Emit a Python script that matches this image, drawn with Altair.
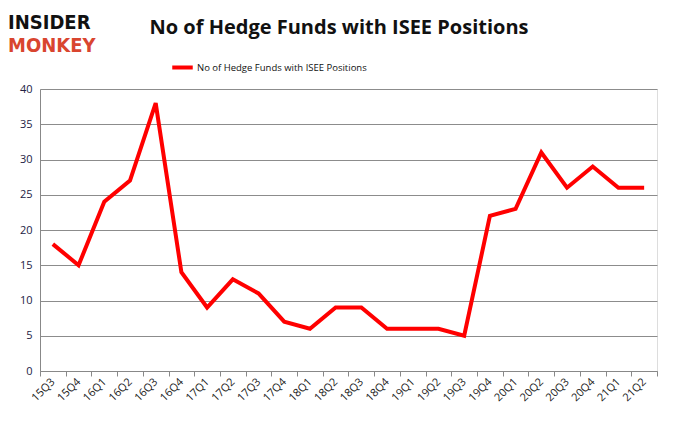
import altair as alt
import pandas as pd

quarters = ["15Q3", "15Q4", "16Q1", "16Q2", "16Q3", "16Q4", "17Q1", "17Q2", "17Q3", "17Q4",
            "18Q1", "18Q2", "18Q3", "18Q4", "19Q1", "19Q2", "19Q3", "19Q4", "20Q1", "20Q2",
            "20Q3", "20Q4", "21Q1", "21Q2"]
funds = [18, 15, 24, 27, 38, 14, 9, 13, 11, 7, 6, 9, 9, 6, 6, 6, 5, 22, 23, 31, 26, 29, 26, 26]
series_name = "No of Hedge Funds with ISEE Positions"
title_text = "No of Hedge Funds with ISEE Positions"
logo_top = "INSIDER"
logo_bottom = "MONKEY"

df = pd.DataFrame({"quarter": quarters, "funds": funds, "series": series_name})
text_df = pd.DataFrame({"a": [logo_top], "b": [logo_bottom], "t": [title_text]})

line = alt.Chart(df).mark_line(strokeWidth=4, color="#ff0000").encode(
    x=alt.X("quarter:O", sort=quarters,
            scale=alt.Scale(type="band", paddingInner=0, paddingOuter=0),
            axis=alt.Axis(title=None, labelAngle=-45, labelAlign="right", labelBaseline="middle",
                          tickBand="extent", grid=False, domainColor="#888888",
                          tickColor="#888888", tickSize=5, labelFontSize=11,
                          labelFont="Open Sans", labelColor="#222222", labelPadding=4)),
    y=alt.Y("funds:Q", scale=alt.Scale(domain=[0, 40]),
            axis=alt.Axis(title=None, values=[0, 5, 10, 15, 20, 25, 30, 35, 40],
                          gridColor="#8c8c8c", domainColor="#888888", ticks=False,
                          labelFontSize=11, labelFont="Open Sans", labelColor="#222244",
                          labelPadding=8)),
    color=alt.Color("series:N", scale=alt.Scale(range=["#ff0000"]),
                    legend=alt.Legend(title=None, orient="none", legendX=130, legendY=-34,
                                      symbolType="stroke", symbolStrokeWidth=4,
                                      symbolSize=420, labelFontSize=9.5, labelLimit=0,
                                      labelOffset=2,
                                      labelFont="Open Sans", labelColor="#111111")),
)

logo1 = alt.Chart(text_df).mark_text(align="left", baseline="alphabetic", font="DejaVu Sans Condensed",
                                     fontWeight="bold", fontSize=20, color="#111111").encode(
    x=alt.value(-32), y=alt.value(-60), text="a:N")
logo2 = alt.Chart(text_df).mark_text(align="left", baseline="alphabetic", font="DejaVu Sans Condensed",
                                     fontWeight="bold", fontSize=20, color="#d9452f").encode(
    x=alt.value(-32), y=alt.value(-37), text="b:N")
title = alt.Chart(text_df).mark_text(align="center", baseline="alphabetic", font="Open Sans",
                                     fontWeight="bold", fontSize=20, color="#111111").encode(
    x=alt.value(299), y=alt.value(-55), text="t:N")

chart = alt.layer(line, logo1, logo2, title).properties(
    width=617, height=282,
    autosize=alt.AutoSizeParams(type="none"),
    padding={"left": 32, "top": 81, "right": 13, "bottom": 42},
).configure_view(stroke=None).configure(background="white")

chart.save("out.html", embed_options={"renderer": "svg", "actions": False})
